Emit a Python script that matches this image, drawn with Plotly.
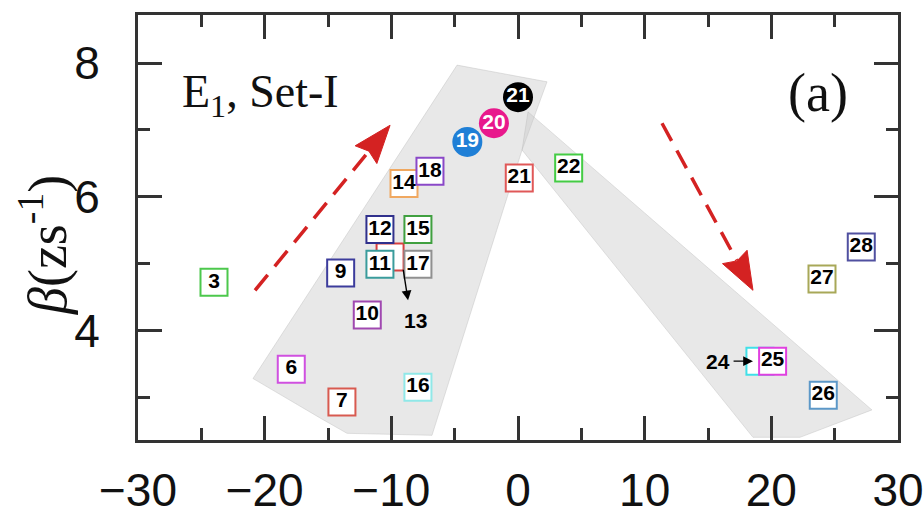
import numpy as np
import plotly.graph_objects as go

# ---------------- data ----------------
sq_labels = ["13", "3", "6", "7", "9", "10", "11", "12", "14", "15", "16", "17",
             "18", "21", "22", "24", "25", "26", "27", "28"]
sq_text = ["", "3", "6", "7", "9", "10", "11", "12", "14", "15", "16", "17",
           "18", "21", "22", "", "25", "26", "27", "28"]
sq_x = [-10.1, -24.0, -17.9, -13.9, -14.0, -11.9, -10.9, -10.9, -9.0, -7.9, -7.9, -7.9,
        -6.95, 0.1, 4.0, 19.1, 20.1, 24.1, 24.0, 27.1]
sq_y = [5.10, 4.72, 3.42, 2.93, 4.86, 4.23, 4.99, 5.51, 6.20, 5.51, 3.15, 4.99,
        6.38, 6.28, 6.43, 3.54, 3.54, 3.03, 4.77, 5.25]
sq_colors = ["#d84040", "#4cc84c", "#d050e0", "#d85a50", "#3c3c9c", "#a048b0",
             "#3a9c9c", "#30308c", "#f0a860", "#40a040", "#90e8e8", "#909090",
             "#8a48c8", "#e05858", "#44cc44", "#40e0e8", "#e040e0", "#5c98c8",
             "#a8a858", "#5050a0"]

circ_labels = ["19", "20", "21"]
circ_x = [-4.0, -1.9, 0.0]
circ_y = [6.82, 7.10, 7.49]
circ_colors = ["#1f7fd6", "#e8188c", "#000000"]

band_left_x = [-4.81, 2.29, 0.32, -6.79, -13.50, -15.63, -20.92]
band_left_y = [7.97, 7.72, 6.70, 2.43, 2.46, 2.69, 3.28]
band_right_x = [0.32, 0.79, 27.94, 22.26, 18.55]
band_right_y = [6.70, 7.27, 2.81, 2.40, 2.40]

arrow_start_x = [-20.76, 11.37]
arrow_start_y = [4.60, 7.10]
arrow_end_x = [-10.10, 18.55]
arrow_end_y = [7.07, 4.60]

x_ticks = [-30, -20, -10, 0, 10, 20, 30]
x_minor = [-25, -15, -5, 5, 15, 25]
y_ticks = [4, 6, 8]
y_minor = [3, 5, 7]
x_range = [-30, 30]
y_range = [2.36, 8.72]

# ---------------- layout geometry ----------------
W, H = 924, 516
ML, MR, MT, MB = 138, 26, 15, 76
PW, PH = W - ML - MR, H - MT - MB
sx = PW / (x_range[1] - x_range[0])
sy = PH / (y_range[1] - y_range[0])

fig = go.Figure()

for bx, by in [(band_left_x, band_left_y), (band_right_x, band_right_y)]:
    fig.add_trace(go.Scatter(x=bx + [bx[0]], y=by + [by[0]], mode="lines", fill="toself",
                             fillcolor="rgba(200,200,200,0.42)",
                             line=dict(width=0.8, color="rgba(185,185,185,0.5)"),
                             hoverinfo="skip", showlegend=False))

# red dashed arrows
HEAD_L, HEAD_W = 38.0, 28.0
for x0, y0, x1, y1 in zip(arrow_start_x, arrow_start_y, arrow_end_x, arrow_end_y):
    p0 = np.array([x0 * sx, y0 * sy])
    p1 = np.array([x1 * sx, y1 * sy])
    d = (p1 - p0) / np.linalg.norm(p1 - p0)
    n = np.array([-d[1], d[0]])
    base = p1 - d * HEAD_L
    fig.add_trace(go.Scatter(x=[p0[0] / sx, (base[0] + d[0] * 4) / sx],
                             y=[p0[1] / sy, (base[1] + d[1] * 4) / sy],
                             mode="lines", line=dict(color="#d42222", width=3.5, dash="20px,11px"),
                             hoverinfo="skip", showlegend=False))
    pts = [p1, base + n * HEAD_W / 2, base + d * HEAD_L * 0.12, base - n * HEAD_W / 2, p1]
    fig.add_trace(go.Scatter(x=[p[0] / sx for p in pts], y=[p[1] / sy for p in pts],
                             mode="lines", fill="toself", fillcolor="#d42222",
                             line=dict(color="#d42222", width=1),
                             hoverinfo="skip", showlegend=False))

label_family = "Liberation Sans Narrow, Arial Narrow, Liberation Sans, Arial"
label_font = dict(family=label_family, size=21, color="black", weight="bold")

fig.add_trace(go.Scatter(x=sq_x, y=sq_y, mode="markers+text", text=sq_text,
                         textposition="middle center",
                         textfont=label_font,
                         marker=dict(symbol="square", size=27, color="white",
                                     line=dict(color=sq_colors, width=2)),
                         hoverinfo="skip", showlegend=False))

fig.add_trace(go.Scatter(x=circ_x, y=circ_y, mode="markers+text", text=circ_labels,
                         textposition="middle center",
                         textfont=dict(family=label_family, size=21, color="white", weight="bold"),
                         marker=dict(symbol="circle", size=30, color=circ_colors,
                                     line=dict(width=0)),
                         hoverinfo="skip", showlegend=False))

# invisible trace to activate the mirrored tick axes
fig.add_trace(go.Scatter(x=[x_range[0]], y=[y_range[0]], xaxis="x2", yaxis="y2",
                         mode="markers", marker=dict(opacity=0), hoverinfo="skip",
                         showlegend=False))

# labels with small black arrows (13 and 24)
fig.add_annotation(x=-8.68, y=4.45, ax=-9.08, ay=4.93, xref="x", yref="y", axref="x", ayref="y",
                   text="", showarrow=True, arrowhead=2, arrowsize=1.4, arrowwidth=1.4,
                   arrowcolor="black")
fig.add_annotation(x=-8.13, y=4.15, xref="x", yref="y", text="13", showarrow=False,
                   font=label_font)
fig.add_annotation(x=18.55, y=3.54, ax=16.9, ay=3.54, xref="x", yref="y", axref="x", ayref="y",
                   text="", showarrow=True, arrowhead=2, arrowsize=1.4, arrowwidth=1.4,
                   arrowcolor="black")
fig.add_annotation(x=15.79, y=3.54, xref="x", yref="y", text="24", showarrow=False,
                   font=label_font)

serif = "Liberation Serif, Times New Roman, serif"
fig.add_annotation(x=(180 - ML) / PW, y=(H - MB - 95) / PH,
                   xref="paper", yref="paper", xanchor="left", yanchor="middle",
                   text="E<sub>1</sub>, Set-I", showarrow=False,
                   font=dict(family=serif, size=46, color="#111"))
fig.add_annotation(x=(818 - ML) / PW, y=(H - MB - 93) / PH,
                   xref="paper", yref="paper", xanchor="center", yanchor="middle",
                   text="(a)", showarrow=False,
                   font=dict(family=serif, size=54, color="#111"))
fig.add_annotation(x=(43 - ML) / PW, y=(H - MB - 245) / PH,
                   xref="paper", yref="paper", xanchor="center", yanchor="middle",
                   textangle=-90, text="<i>β</i>(zs<sup>-1</sup>)", showarrow=False,
                   font=dict(family=serif, size=54, color="#111"))

tick_style = dict(ticks="inside", ticklen=24, tickwidth=3, tickcolor="#333")
minor_style = dict(ticks="inside", ticklen=12, tickwidth=3, tickcolor="#333", tickmode="array")
line_style = dict(showgrid=False, zeroline=False, showline=True, linewidth=3,
                  linecolor="#333", mirror=True, automargin=False)
tick_font = dict(family="Liberation Sans, Arial", size=46, color="#111")

fig.update_layout(
    xaxis=dict(range=x_range, tickmode="array", tickvals=x_ticks,
               ticktext=[("−" if v < 0 else "") + str(abs(v)) for v in x_ticks],
               ticklabelstandoff=8, tickfont=tick_font,
               minor=dict(tickvals=x_minor, **minor_style), **tick_style, **line_style),
    yaxis=dict(range=y_range, tickmode="array", tickvals=y_ticks,
               ticktext=[str(v) for v in y_ticks],
               ticklabelstandoff=26, tickfont=tick_font,
               minor=dict(tickvals=y_minor, **minor_style), **tick_style, **line_style),
    xaxis2=dict(range=x_range, overlaying="x", side="top", tickmode="array",
                tickvals=x_ticks, showticklabels=False, showgrid=False, zeroline=False,
                showline=False, automargin=False,
                minor=dict(tickvals=x_minor, **minor_style), **tick_style),
    yaxis2=dict(range=y_range, overlaying="y", side="right", tickmode="array",
                tickvals=y_ticks, showticklabels=False, showgrid=False, zeroline=False,
                showline=False, automargin=False,
                minor=dict(tickvals=y_minor, **minor_style), **tick_style),
    width=W, height=H, margin=dict(l=ML, r=MR, t=MT, b=MB, autoexpand=False),
    paper_bgcolor="white", plot_bgcolor="white", showlegend=False)

fig.write_html("out.html")
